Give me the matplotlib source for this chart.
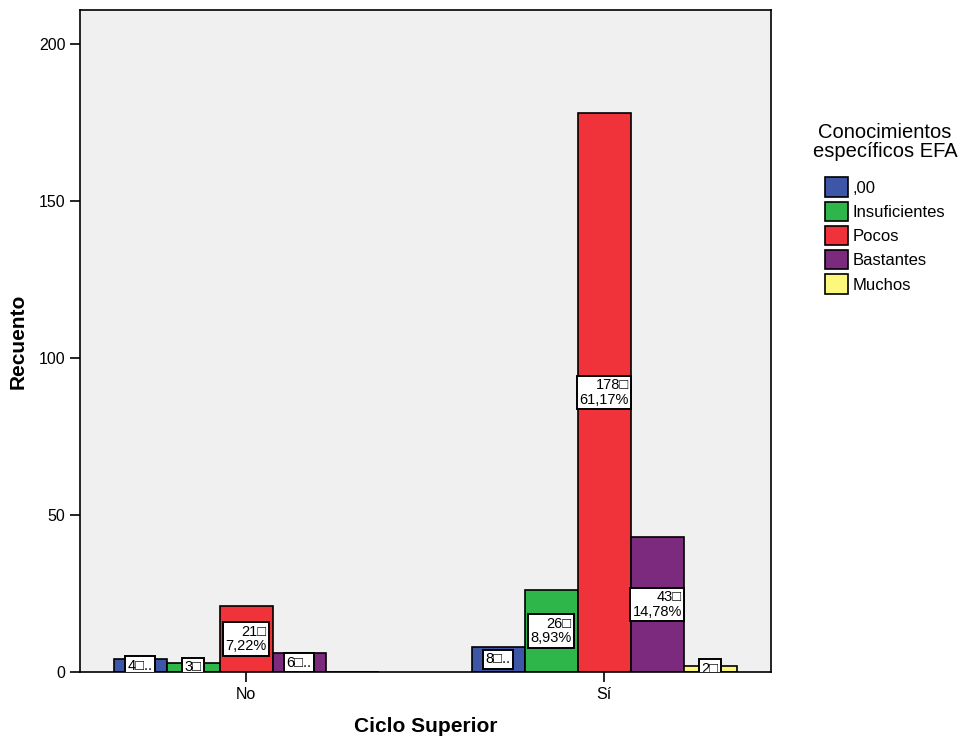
import matplotlib
matplotlib.use("Agg")
import matplotlib.pyplot as plt
import numpy as np
from matplotlib.patches import Patch

groups = ["No", "Sí"]
categories = [",00", "Insuficientes", "Pocos", "Bastantes", "Muchos"]
counts = {
    ",00": [4, 8],
    "Insuficientes": [3, 26],
    "Pocos": [21, 178],
    "Bastantes": [6, 43],
    "Muchos": [0, 2],
}
colors = ["#3E56A8", "#2EB64A", "#F0333B", "#7B2A7E", "#FBF87C"]
yticks = [0, 50, 100, 150, 200]

plt.rcParams['font.family'] = ['Liberation Sans', 'DejaVu Sans']

fig = plt.figure(figsize=(9.77, 7.40), dpi=100)
ax = fig.add_axes([80/977, 1-672/740, (771-80)/977, (672-10)/740])
ax.set_facecolor("#F0F0F0")

total = sum(sum(v) for v in counts.values())
x = np.arange(len(groups))
w = 0.148
n = len(categories)
for i, (cat, col) in enumerate(zip(categories, colors)):
    vals = counts[cat]
    pos = x + (i - (n-1)/2) * w
    ax.bar(pos, vals, width=w, color=col, edgecolor="black", linewidth=1.2, zorder=2)
    for p, v in zip(pos, vals):
        if v == 0:
            continue
        if v >= 10:
            pct = f"{v/total*100:.2f}".replace(".", ",")
            txt = f"{v}\u25a1\n{pct}%"
            ax.text(p, v/2, txt, ha="center", va="center", multialignment="right",
                    fontsize=10.5, linespacing=1.05, zorder=4,
                    bbox=dict(boxstyle="square,pad=0.18", fc="white", ec="black", lw=1.4))
        else:
            txt = f"{v}\u25a1.." if v >= 4 else f"{v}\u25a1"
            ax.text(p, v/2, txt, ha="center", va="center", fontsize=10.5, zorder=4,
                    clip_on=True,
                    bbox=dict(boxstyle="square,pad=0.18", fc="white", ec="black", lw=1.4))

ax.set_xlim(-0.464, 1.466)
ax.set_ylim(0, 210.8)
ax.set_yticks(yticks)
ax.set_xticks(x)
ax.set_xticklabels(groups)
ax.tick_params(axis="both", direction="out", length=7, width=1.2, labelsize=11.5)
for s in ax.spines.values():
    s.set_linewidth(1.2)
ax.set_xlabel("Ciclo Superior", fontsize=15, fontweight="bold", labelpad=11)
ax.set_ylabel("Recuento", fontsize=15, fontweight="bold", labelpad=8)

handles = [Patch(facecolor=c, edgecolor="black", linewidth=1.2, label=l) for c, l in zip(colors, categories)]
leg = fig.legend(handles=handles, title="Conocimientos\nespecíficos EFA", loc="upper left",
                 bbox_to_anchor=(806/977, 1-116/740), frameon=False, fontsize=12,
                 title_fontsize=14.5, handlelength=1.4, handleheight=1.4,
                 handletextpad=0.3, labelspacing=0.3, borderaxespad=0)
leg.get_title().set_multialignment("center")
leg.get_title().set_linespacing(1.0)
leg._legend_box.align = "center"
leg._legend_box.sep = 12

fig.savefig("out.png", dpi=100)
